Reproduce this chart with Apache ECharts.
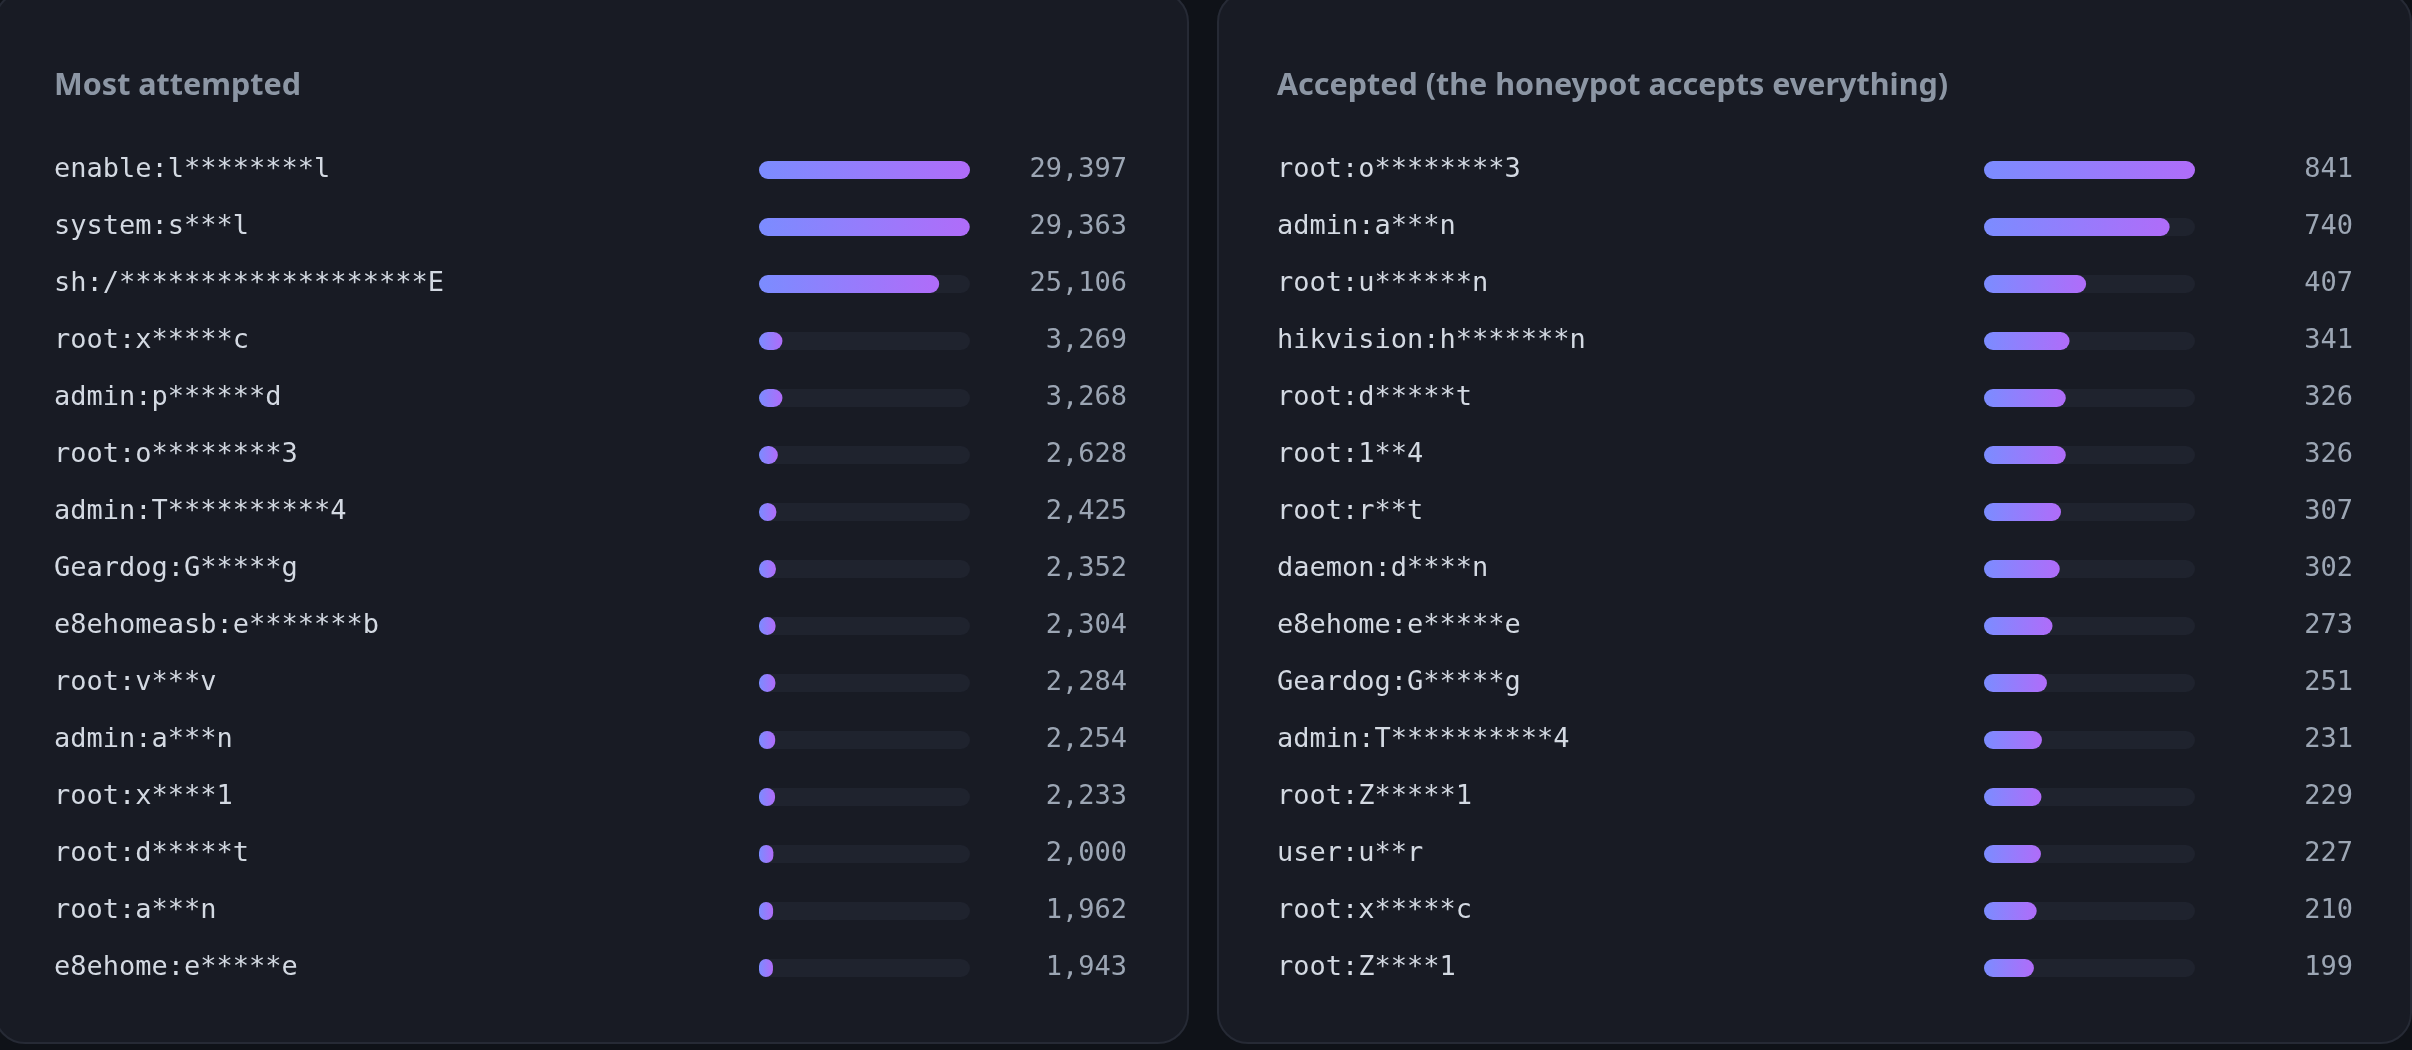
<!DOCTYPE html>
<html lang="en">
<head>
<meta charset="utf-8" />
<title>Credentials</title>
<script src="https://cdn.jsdelivr.net/npm/echarts@6/dist/echarts.min.js"></script>
<style>
  html, body { margin: 0; padding: 0; background: #0f1218; }
  #main { width: 2412px; height: 1050px; }
</style>
</head>
<body>
<div id="main"></div>
<script>
// left panel: most attempted
var attemptedNames = ['enable:l********l', 'system:s***l', 'sh:/*******************E', 'root:x*****c',
  'admin:p******d', 'root:o********3', 'admin:T**********4', 'Geardog:G*****g', 'e8ehomeasb:e*******b',
  'root:v***v', 'admin:a***n', 'root:x****1', 'root:d*****t', 'root:a***n', 'e8ehome:e*****e'];
var attemptedCounts = [29397, 29363, 25106, 3269, 3268, 2628, 2425, 2352, 2304, 2284, 2254, 2233, 2000, 1962, 1943];

// right panel: accepted
var acceptedNames = ['root:o********3', 'admin:a***n', 'root:u******n', 'hikvision:h*******n', 'root:d*****t',
  'root:1**4', 'root:r**t', 'daemon:d****n', 'e8ehome:e*****e', 'Geardog:G*****g', 'admin:T**********4',
  'root:Z*****1', 'user:u**r', 'root:x*****c', 'root:Z****1'];
var acceptedCounts = [841, 740, 407, 341, 326, 326, 307, 302, 273, 251, 231, 229, 227, 210, 199];

var titles = ['Most attempted', 'Accepted (the honeypot accepts everything)'];

var mono = '"DejaVu Sans Mono", "Liberation Mono", monospace';
var fmt = function (v) { return v.toLocaleString('en-US'); };

var chart = echarts.init(document.getElementById('main'));

var panels = [
  { x: -5, names: attemptedNames, counts: attemptedCounts, gridLeft: 759, labelX: 54, numRight: 1127 },
  { x: 1218, names: acceptedNames, counts: acceptedCounts, gridLeft: 1984, labelX: 1277, numRight: 2353 }
];
var barLen = 211;

var grids = [], xAxes = [], yAxes = [], series = [], graphics = [];
panels.forEach(function (p, i) {
  graphics.push({
    type: 'rect', z: -10,
    shape: { x: p.x, y: -8, width: 1193, height: 1051, r: 30 },
    style: { fill: '#181b24', stroke: '#262a35', lineWidth: 2 }
  });
  graphics.push({
    type: 'text', z: -5,
    x: p.labelX, y: 86,
    style: {
      text: titles[i], fill: '#8c96a4', font: 'bold 30.5px "Noto Sans", sans-serif',
      textVerticalAlign: 'middle'
    }
  });
  grids.push({ left: p.gridLeft, width: barLen, top: 141.5, height: 855 });
  xAxes.push({ type: 'value', gridIndex: i, min: 0, max: Math.max.apply(null, p.counts), show: false });
  yAxes.push({
    type: 'category', gridIndex: i, inverse: true, data: p.names,
    axisLine: { show: false }, axisTick: { show: false }, splitLine: { show: false },
    axisLabel: {
      align: 'left', margin: p.gridLeft - p.labelX,
      color: '#d3d9e2', fontFamily: mono, fontSize: 27
    }
  });
  yAxes.push({
    type: 'category', gridIndex: i, inverse: true, position: 'right',
    data: p.counts.map(fmt),
    axisLine: { show: false }, axisTick: { show: false }, splitLine: { show: false },
    axisLabel: {
      align: 'right', margin: p.numRight - p.gridLeft - barLen,
      color: '#9ca6b4', fontFamily: mono, fontSize: 27
    }
  });
  series.push({
    type: 'bar', xAxisIndex: i, yAxisIndex: i * 2,
    data: p.counts, barWidth: 18, silent: true,
    showBackground: true,
    backgroundStyle: { color: '#1f232e', borderRadius: 9 },
    itemStyle: {
      borderRadius: 9,
      color: new echarts.graphic.LinearGradient(0, 0, 1, 0, [
        { offset: 0, color: '#7b8cff' },
        { offset: 1, color: '#b06cf9' }
      ])
    }
  });
});

chart.setOption({
  backgroundColor: 'transparent',
  animation: false,
  graphic: graphics,
  grid: grids,
  xAxis: xAxes,
  yAxis: yAxes,
  series: series
});
</script>
</body>
</html>
